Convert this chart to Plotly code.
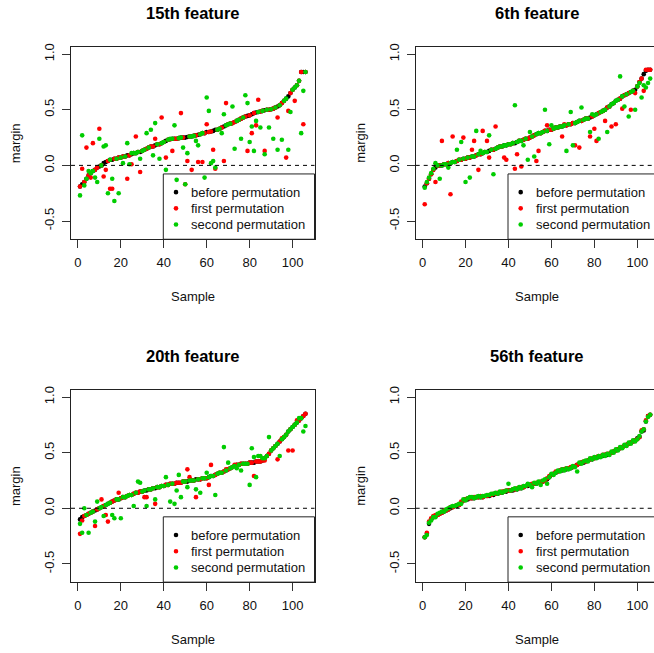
import plotly.graph_objects as go

W, H = 654, 653
samples = list(range(1, 107))
titles = ["15th feature", "6th feature", "20th feature", "56th feature"]
series_names = ["before permutation", "first permutation", "second permutation"]
series_colors = ["#000000", "#FF0000", "#00CD00"]
x_ticks = [0, 20, 40, 60, 80, 100]
y_ticks = [-0.5, 0.0, 0.5, 1.0]
y_tick_labels = ["-0.5", "0.0", "0.5", "1.0"]

# ---- 15th feature ----
before_15 = [-0.19,-0.17,-0.15,-0.12,-0.09,-0.07,-0.05,-0.04,-0.02,-0.01,
 0.00,0.02,0.03,0.04,0.05,0.05,0.06,0.06,0.07,0.07,
 0.08,0.08,0.09,0.09,0.10,0.11,0.11,0.12,0.12,0.13,
 0.14,0.15,0.16,0.17,0.17,0.18,0.19,0.19,0.20,0.21,
 0.22,0.23,0.235,0.24,0.24,0.24,0.245,0.25,0.25,0.25,
 0.255,0.26,0.26,0.265,0.27,0.275,0.28,0.29,0.29,0.30,
 0.30,0.305,0.31,0.32,0.32,0.33,0.34,0.35,0.36,0.37,
 0.375,0.38,0.39,0.40,0.41,0.42,0.43,0.44,0.445,0.45,
 0.46,0.47,0.475,0.48,0.485,0.49,0.495,0.50,0.50,0.505,
 0.51,0.52,0.53,0.54,0.56,0.58,0.60,0.62,0.65,0.68,
 0.70,0.72,0.76,0.84,0.84,0.84]
first_15 = [-0.19,-0.03,-0.15,0.16,-0.09,-0.11,0.20,-0.04,-0.02,0.33,
 0.00,-0.10,-0.04,0.04,-0.21,-0.21,0.06,0.06,0.07,0.07,
 0.08,0.08,-0.12,0.09,0.01,0.11,0.26,0.12,-0.06,0.13,
 0.14,0.15,0.16,0.17,0.17,0.24,0.19,0.19,0.43,0.21,
 0.07,0.23,0.235,0.13,0.24,0.24,0.245,0.47,0.25,-0.17,
 0.04,0.26,-0.04,0.265,0.27,0.03,0.28,0.03,0.29,0.37,
 0.30,0.305,0.14,-0.03,0.32,0.33,0.34,0.04,0.56,0.37,
 0.375,0.38,0.39,0.40,0.41,0.42,0.43,0.44,0.13,0.45,
 0.29,0.47,0.36,0.59,0.485,0.49,0.13,0.50,0.50,0.505,
 0.51,0.52,0.43,0.54,0.56,0.58,0.07,0.49,0.65,0.68,
 0.58,0.72,0.76,0.84,0.37,0.84]
second_15 = [-0.27,0.27,-0.18,-0.12,-0.05,-0.07,-0.05,-0.11,-0.15,0.24,
 0.00,0.17,0.18,-0.25,0.05,-0.12,-0.32,0.06,-0.25,0.07,
 0.02,0.08,0.20,0.01,0.11,0.11,0.11,0.12,0.06,0.13,
 0.14,0.29,0.16,0.32,0.09,0.38,0.19,0.06,0.20,0.21,
 -0.04,0.23,0.24,0.24,0.36,-0.13,0.245,0.25,0.16,-0.17,
 0.11,0.26,0.26,0.265,0.22,0.18,0.28,0.29,-0.11,0.61,
 0.49,0.02,0.04,-0.02,0.32,0.33,0.29,0.46,0.36,0.37,
 0.375,0.53,0.15,0.40,0.41,0.24,0.43,0.63,0.56,0.21,
 0.35,0.13,0.40,0.48,0.34,0.49,0.10,0.50,0.34,0.505,
 0.24,0.52,0.14,0.54,0.23,0.58,0.60,0.14,0.48,0.68,
 0.70,0.72,0.76,0.29,0.67,0.84]

# ---- 6th feature ----
before_6 = [-0.19,-0.16,-0.12,-0.08,-0.04,-0.02,0.00,0.00,0.00,0.01,
 0.01,0.02,0.02,0.03,0.03,0.04,0.05,0.05,0.06,0.06,
 0.07,0.07,0.08,0.08,0.09,0.10,0.10,0.11,0.12,0.12,
 0.13,0.14,0.14,0.15,0.16,0.17,0.17,0.18,0.18,0.19,
 0.19,0.20,0.20,0.21,0.22,0.22,0.23,0.24,0.24,0.25,
 0.26,0.27,0.28,0.29,0.29,0.30,0.31,0.31,0.32,0.32,
 0.33,0.34,0.34,0.35,0.35,0.36,0.36,0.37,0.37,0.38,
 0.38,0.39,0.40,0.40,0.41,0.42,0.42,0.43,0.44,0.45,
 0.46,0.47,0.48,0.49,0.50,0.52,0.53,0.55,0.56,0.58,
 0.59,0.60,0.62,0.63,0.64,0.65,0.66,0.67,0.68,0.71,
 0.75,0.78,0.82,0.85,0.86,0.86]
first_6 = [-0.35,-0.16,-0.12,-0.08,-0.04,-0.15,0.00,0.00,0.22,0.01,
 0.01,0.02,-0.26,0.26,0.03,0.04,0.05,0.05,0.25,0.06,
 0.07,0.07,0.14,0.22,0.09,-0.04,0.10,0.31,0.12,0.22,
 0.07,0.14,0.14,0.35,0.16,0.17,0.17,0.07,0.05,0.19,
 0.19,0.20,-0.03,0.10,0.22,-0.01,0.23,0.24,0.24,0.25,
 0.26,0.27,0.04,0.13,0.29,0.30,0.31,0.36,0.32,0.32,
 0.33,0.34,0.34,0.35,0.26,0.37,0.36,0.37,0.37,0.38,
 0.18,0.39,0.16,0.40,0.41,0.42,0.42,0.26,0.44,0.33,
 0.22,0.47,0.48,0.49,0.40,0.52,0.53,0.35,0.56,0.37,
 0.59,0.60,0.51,0.63,0.64,0.65,0.50,0.67,0.65,0.71,
 0.75,0.78,0.67,0.86,0.86,0.86]
second_6 = [-0.20,-0.15,-0.11,-0.07,-0.03,0.02,0.00,-0.12,0.00,0.01,
 0.01,-0.02,0.02,0.03,0.03,0.14,0.05,0.21,0.06,-0.15,
 0.07,-0.11,0.08,0.08,0.31,0.10,0.13,0.11,0.12,0.12,
 0.27,0.14,-0.08,0.15,0.16,0.17,0.17,0.18,0.18,0.19,
 0.19,0.20,0.54,0.21,0.22,0.22,0.18,0.24,0.05,0.30,
 0.26,0.08,0.28,0.29,0.29,0.30,0.50,0.31,0.19,0.36,
 0.33,0.34,0.34,0.35,0.35,0.36,0.13,0.37,0.48,0.18,
 0.38,0.39,0.40,0.52,0.41,0.42,0.42,0.30,0.46,0.45,
 0.46,0.24,0.48,0.49,0.50,0.30,0.53,0.55,0.56,0.58,
 0.59,0.80,0.62,0.53,0.64,0.44,0.66,0.67,0.50,0.71,
 0.74,0.61,0.72,0.70,0.74,0.78]

# ---- 20th feature ----
before_20 = [-0.10,-0.08,-0.07,-0.06,-0.05,-0.04,-0.03,-0.02,-0.01,0.00,
 0.01,0.02,0.03,0.04,0.05,0.06,0.07,0.08,0.08,0.09,
 0.10,0.10,0.11,0.12,0.12,0.13,0.14,0.14,0.15,0.15,
 0.16,0.16,0.17,0.17,0.18,0.18,0.19,0.19,0.20,0.20,
 0.21,0.21,0.22,0.22,0.22,0.23,0.23,0.23,0.24,0.24,
 0.24,0.25,0.25,0.25,0.26,0.26,0.26,0.27,0.27,0.27,
 0.28,0.29,0.29,0.30,0.31,0.32,0.32,0.33,0.34,0.35,
 0.36,0.37,0.38,0.39,0.39,0.40,0.40,0.40,0.40,0.41,
 0.41,0.41,0.42,0.42,0.42,0.43,0.45,0.47,0.49,0.52,
 0.54,0.56,0.58,0.60,0.62,0.64,0.66,0.69,0.71,0.73,
 0.75,0.77,0.79,0.81,0.83,0.85]
first_20 = [-0.23,-0.11,-0.07,-0.06,-0.05,-0.04,-0.03,-0.16,-0.01,0.00,
 0.08,0.02,-0.06,-0.12,0.05,0.06,0.07,0.08,0.14,0.09,
 0.10,0.10,0.11,0.12,0.12,0.13,0.14,0.14,0.15,0.15,
 0.10,0.10,0.17,0.17,0.18,0.04,0.19,0.19,0.20,0.20,
 0.21,0.21,0.22,0.22,0.22,0.23,0.23,0.23,0.24,0.24,
 0.35,0.28,0.25,0.25,0.10,0.26,0.26,0.27,0.27,0.27,
 0.21,0.39,0.29,0.30,0.31,0.32,0.32,0.33,0.35,0.35,
 0.36,0.37,0.39,0.39,0.39,0.40,0.40,0.40,0.40,0.41,
 0.41,0.29,0.42,0.42,0.42,0.43,0.43,0.47,0.49,0.52,
 0.54,0.56,0.44,0.60,0.63,0.64,0.66,0.52,0.71,0.52,
 0.75,0.79,0.79,0.81,0.83,0.85]
second_20 = [-0.14,-0.22,0.00,-0.06,-0.22,-0.04,-0.03,-0.12,0.06,0.00,
 0.01,-0.07,0.03,0.04,0.05,-0.06,-0.09,0.08,0.08,-0.09,
 0.10,0.10,0.11,0.12,0.12,0.02,0.14,0.24,0.23,0.15,
 0.16,0.02,0.17,0.17,0.18,0.08,0.19,0.19,0.20,0.20,
 0.28,0.21,0.06,0.22,0.04,0.16,0.30,0.10,0.24,0.24,
 0.19,0.25,0.25,0.25,0.17,0.26,0.14,0.27,0.27,0.32,
 0.28,0.29,0.29,0.12,0.31,0.32,0.32,0.55,0.34,0.41,
 0.36,0.37,0.38,0.36,0.39,0.34,0.40,0.40,0.40,0.21,
 0.54,0.46,0.28,0.47,0.47,0.45,0.45,0.47,0.64,0.52,
 0.54,0.56,0.58,0.47,0.62,0.64,0.66,0.69,0.71,0.73,
 0.75,0.77,0.81,0.81,0.69,0.74]

# ---- 56th feature ----
before_56 = [-0.26,-0.23,-0.14,-0.10,-0.08,-0.07,-0.06,-0.05,-0.04,-0.03,
 -0.02,-0.01,0.00,0.01,0.02,0.02,0.03,0.05,0.07,0.08,
 0.08,0.09,0.09,0.09,0.10,0.10,0.10,0.10,0.11,0.11,
 0.11,0.12,0.12,0.13,0.13,0.14,0.14,0.15,0.15,0.16,
 0.16,0.16,0.17,0.17,0.18,0.18,0.19,0.20,0.20,0.21,
 0.21,0.22,0.22,0.23,0.23,0.24,0.25,0.26,0.28,0.30,
 0.31,0.32,0.33,0.34,0.34,0.35,0.35,0.36,0.36,0.37,
 0.38,0.39,0.40,0.41,0.41,0.42,0.43,0.44,0.44,0.45,
 0.46,0.46,0.47,0.47,0.48,0.48,0.49,0.50,0.51,0.52,
 0.53,0.54,0.55,0.56,0.57,0.58,0.59,0.60,0.61,0.63,
 0.64,0.69,0.70,0.78,0.83,0.84]
first_56 = [-0.26,-0.22,-0.12,-0.09,-0.07,-0.06,-0.06,-0.05,-0.04,-0.02,
 -0.02,-0.01,0.01,0.01,0.02,0.03,0.03,0.06,0.07,0.08,
 0.09,0.09,0.09,0.10,0.10,0.10,0.11,0.10,0.11,0.11,
 0.12,0.12,0.13,0.13,0.14,0.14,0.15,0.15,0.16,0.16,
 0.16,0.17,0.17,0.18,0.18,0.19,0.19,0.20,0.21,0.21,
 0.22,0.22,0.23,0.23,0.24,0.24,0.25,0.27,0.29,0.30,
 0.31,0.33,0.33,0.34,0.35,0.35,0.36,0.36,0.37,0.37,
 0.38,0.39,0.40,0.41,0.42,0.42,0.43,0.44,0.45,0.45,
 0.46,0.47,0.47,0.48,0.48,0.49,0.49,0.50,0.51,0.52,
 0.53,0.54,0.55,0.56,0.57,0.58,0.59,0.60,0.61,0.62,
 0.64,0.70,0.71,0.79,0.83,0.84]
second_56 = [-0.26,-0.24,-0.13,-0.11,-0.08,-0.08,-0.05,-0.04,-0.03,-0.03,
 -0.01,0.00,0.01,0.02,0.02,0.03,0.04,0.04,0.08,0.07,
 0.09,0.10,0.10,0.09,0.10,0.11,0.10,0.11,0.11,0.12,
 0.12,0.13,0.13,0.14,0.13,0.15,0.14,0.15,0.16,0.22,
 0.16,0.17,0.18,0.17,0.19,0.18,0.20,0.20,0.22,0.21,
 0.19,0.23,0.22,0.24,0.21,0.25,0.26,0.22,0.28,0.31,
 0.30,0.32,0.34,0.33,0.35,0.34,0.36,0.35,0.36,0.38,
 0.37,0.33,0.41,0.40,0.42,0.43,0.42,0.45,0.44,0.46,
 0.45,0.47,0.46,0.48,0.47,0.49,0.48,0.51,0.50,0.53,
 0.52,0.55,0.54,0.57,0.56,0.59,0.58,0.61,0.60,0.62,
 0.65,0.69,0.71,0.78,0.82,0.84]

panel_data = [
    (before_15, first_15, second_15),
    (before_6, first_6, second_6),
    (before_20, first_20, second_20),
    (before_56, first_56, second_56),
]

FONT = "Liberation Sans, Arial, sans-serif"
# panel boxes in pixels: left, right (full box), top, bottom
boxes = [
    (71.0, 314.5, 43.3, 236.7),
    (415.7, 659.2, 43.3, 236.7),
    (71.0, 314.5, 388.3, 581.7),
    (415.7, 659.2, 388.3, 581.7),
]
X0, X1 = -3.2, 110.2
Y0, Y1 = -0.664, 1.064

def fx(p):
    return p / W

def fy(p):
    return 1 - p / H

fig = go.Figure()
layout = dict(width=W, height=H, margin=dict(l=0, r=0, t=0, b=0),
              paper_bgcolor="white", plot_bgcolor="white", showlegend=False,
              font=dict(family=FONT, size=13, color="black"))
annotations = []
shapes = []

for i, (data, title, box) in enumerate(zip(panel_data, titles, boxes)):
    n = "" if i == 0 else str(i + 1)
    left, right, top, bottom = box
    dom_right = min(right, W)
    scale = (right - left) / (X1 - X0)
    xr1 = X0 + (dom_right - left) / scale
    clipped = right > W
    for vals, name, col in zip(data, series_names, series_colors):
        fig.add_trace(go.Scatter(x=samples, y=vals, mode="markers", name=name,
                                 marker=dict(color=col, size=4.6, line=dict(width=0)),
                                 xaxis="x" + n, yaxis="y" + n))
    layout["xaxis" + n] = dict(domain=[fx(left), fx(dom_right)], range=[X0, xr1],
                               anchor="y" + n, tickvals=x_ticks, ticks="outside",
                               ticklen=8, tickwidth=1, tickcolor="#333333",
                               showline=True, linecolor="#222222", linewidth=1,
                               mirror=True, showgrid=False, zeroline=False,
                               ticklabelstandoff=3,
                               tickfont=dict(size=13, color="#111111"))
    layout["yaxis" + n] = dict(domain=[fy(bottom), fy(top)], range=[Y0, Y1],
                               anchor="x" + n, tickvals=y_ticks, ticktext=y_tick_labels,
                               ticks="outside", ticklen=8, tickwidth=1, tickcolor="#333333",
                               showline=True, linecolor="#222222", linewidth=1,
                               mirror=not clipped, showgrid=False, zeroline=False,
                               tickangle=-90, ticklabelstandoff=3,
                               tickfont=dict(size=13, color="#111111"))
    cx = (left + right) / 2
    annotations.append(dict(text="<b>" + title + "</b>", x=fx(cx), y=fy(top - 34),
                            xref="paper", yref="paper", showarrow=False,
                            xanchor="center", yanchor="middle",
                            font=dict(size=16.5, family=FONT, color="black")))
    annotations.append(dict(text="Sample", x=fx(cx), y=fy(bottom + 58),
                            xref="paper", yref="paper", showarrow=False,
                            xanchor="center", yanchor="middle",
                            font=dict(size=13, family=FONT, color="#111111")))
    annotations.append(dict(text="margin", x=fx(left - 56), y=fy((top + bottom) / 2),
                            xref="paper", yref="paper", showarrow=False, textangle=-90,
                            xanchor="center", yanchor="middle",
                            font=dict(size=13, family=FONT, color="#111111")))
    # dashed zero line
    shapes.append(dict(type="line", xref="x" + n + " domain", yref="y" + n,
                       x0=0, x1=1, y0=0, y1=0,
                       line=dict(color="black", width=1, dash="4px,4px")))
    # legend box
    lg_left = right - 151.2
    lg_top = top + 127.7
    shapes.append(dict(type="rect", xref="paper", yref="paper",
                       x0=fx(lg_left), x1=fx(right), y0=fy(bottom), y1=fy(lg_top),
                       line=dict(color="#222222", width=1), fillcolor="rgba(0,0,0,0)"))
    for k, (name, col) in enumerate(zip(series_names, series_colors)):
        yc = lg_top + 18.3 + k * 16.3
        mx = lg_left + 12.7
        shapes.append(dict(type="circle", xref="paper", yref="paper",
                           x0=fx(mx - 2.3), x1=fx(mx + 2.3), y0=fy(yc + 2.3), y1=fy(yc - 2.3),
                           fillcolor=col, line=dict(width=0)))
        annotations.append(dict(text=name, x=fx(lg_left + 25.5), y=fy(yc),
                                xref="paper", yref="paper", showarrow=False,
                                xanchor="left", yanchor="middle",
                                font=dict(size=13, family=FONT, color="#111111")))

layout["annotations"] = annotations
layout["shapes"] = shapes
fig.update_layout(**layout)
fig.write_html("out.html")
